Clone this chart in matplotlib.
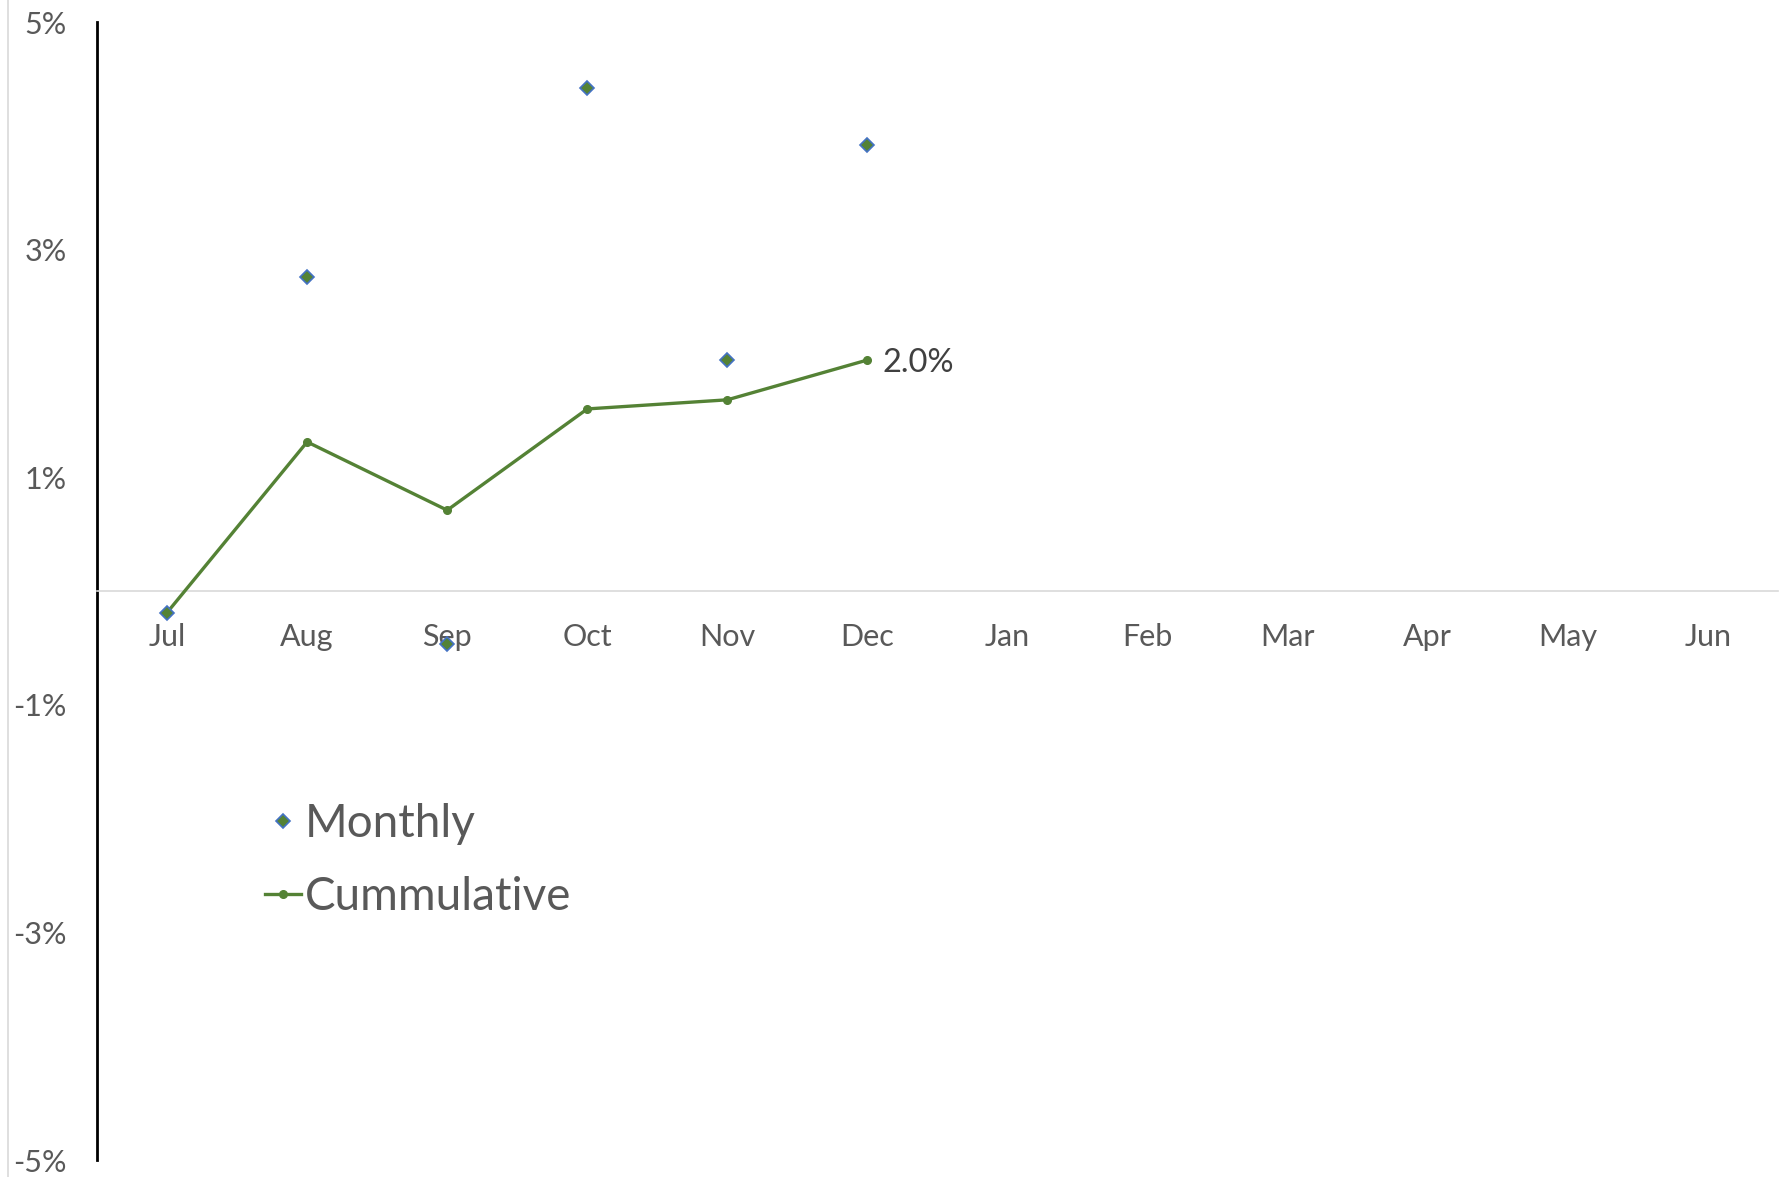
import matplotlib.pyplot as plt
from matplotlib.lines import Line2D

plt.rcParams['font.family'] = ['Lato', 'DejaVu Sans']

months = ['Jul', 'Aug', 'Sep', 'Oct', 'Nov', 'Dec', 'Jan', 'Feb', 'Mar', 'Apr', 'May', 'Jun']
monthly = [-0.19, 2.76, -0.47, 4.42, 2.03, 3.92]
cumulative = [-0.19, 1.31, 0.71, 1.60, 1.68, 2.03]
y_ticks = [5, 3, 1, -1, -3, -5]

green = '#548235'
blue = '#4472C4'
grey_text = '#595959'

W, H = 1781, 1177
fig = plt.figure(figsize=(W / 100, H / 100), dpi=100, facecolor='white')
ax = fig.add_axes([97 / W, 1 - 1160 / H, (1778 - 97) / W, (1160 - 22) / H])

x = list(range(len(months)))
ax.plot(x[:len(cumulative)], cumulative, color=green, linewidth=2.4, marker='o',
        markersize=5.5, label='Cummulative', zorder=3)
ax.plot(x[:len(monthly)], monthly, linestyle='none', marker='D', markersize=7,
        markerfacecolor=green, markeredgecolor=blue, markeredgewidth=1.2,
        label='Monthly', zorder=4)

ax.annotate(f'{cumulative[-1]:.1f}%', (x[len(cumulative) - 1], cumulative[-1]),
            xytext=(11, -2), textcoords='offset points', va='center', ha='left',
            fontsize=23.5, color='#404040')

ax.set_xlim(-0.5, 11.5)
ax.set_ylim(-5, 5)
ax.set_yticks(y_ticks)
ax.set_yticklabels([f'{t}%' for t in y_ticks])
ax.set_xticks(x)
ax.set_xticklabels(months)

for s in ['top', 'right']:
    ax.spines[s].set_visible(False)
ax.spines['left'].set_color('black')
ax.spines['left'].set_linewidth(2)
ax.spines['bottom'].set_position(('data', 0))
ax.spines['bottom'].set_color('#d9d9d9')
ax.spines['bottom'].set_linewidth(1.2)

ax.tick_params(axis='y', length=0, pad=22, labelsize=22, labelcolor=grey_text)
ax.tick_params(axis='x', length=0, pad=23, labelsize=22, labelcolor=grey_text)

handles, labels = ax.get_legend_handles_labels()
leg = ax.legend(handles[::-1], labels[::-1], loc='upper left',
                bbox_to_anchor=(265 / W, 1 - 803 / H), bbox_transform=fig.transFigure,
                frameon=False, fontsize=33, labelcolor=grey_text, borderpad=0,
                borderaxespad=0, handlelength=0.78, handletextpad=0.08,
                labelspacing=0.68)

fig.add_artist(Line2D([8 / W, 8 / W], [0, 1], color='#d9d9d9', linewidth=1.2))

fig.savefig('out.png', dpi=100, facecolor='white')
